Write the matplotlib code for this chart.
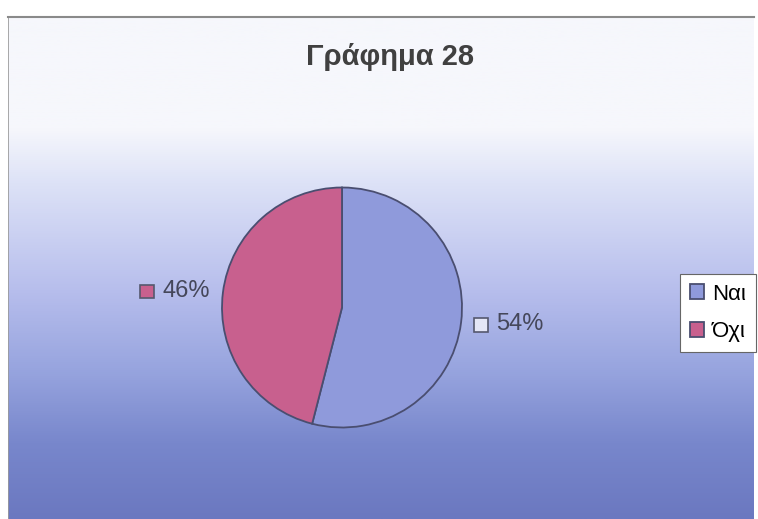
import numpy as np
import matplotlib.pyplot as plt
from matplotlib.colors import LinearSegmentedColormap
from matplotlib.offsetbox import AnnotationBbox, DrawingArea, HPacker, TextArea
from matplotlib.patches import Rectangle

# ---- Data ----
labels = ["Ναι", "Όχι"]
shares = [54, 46]
colors = ["#8f9adb", "#c8608e"]
label_keys = ["#e4e6f6", "#c8608e"]
title = "Γράφημα 28"

FONT = ["Liberation Sans", "DejaVu Sans"]
W, H = 758, 519
fig = plt.figure(figsize=(W / 100, H / 100), dpi=100)
fig.patch.set_facecolor("white")

# ---- Background: white top fading into blue ----
bg = fig.add_axes([8 / W, 0, 746 / W, 1 - 17 / H])
bg.set_axis_off()
stops = [(0.0, "#f6f7fc"), (0.22, "#f6f7fc"), (0.33, "#dde2f7"),
         (0.55, "#b6bdec"), (0.70, "#98a5df"), (0.85, "#7887cc"),
         (1.0, "#6b78c0")]
cmap = LinearSegmentedColormap.from_list("bg", stops)
grad = np.linspace(0, 1, 512).reshape(-1, 1)
bg.imshow(grad, cmap=cmap, aspect="auto", extent=[0, 1, 0, 1], origin="upper")
bg.set_xlim(0, 1)
bg.set_ylim(0, 1)
bg.axvline(0.0, color="#9a9a9a", lw=1.2)
bg.axhline(1.0, color="#8a8a8a", lw=1.5, clip_on=False)

fig.text(390 / W, 1 - 57 / H, title, ha="center", va="center",
         fontsize=21, fontweight="bold", color="#404040", family=FONT)

# ---- Pie ----
cx, cy, r = 342, 307.5, 120
ax = fig.add_axes([(cx - r) / W, 1 - (cy + r) / H, 2 * r / W, 2 * r / H])
wedges, _ = ax.pie(shares, colors=colors, startangle=90, counterclock=False,
                   wedgeprops=dict(edgecolor="#4a4e70", linewidth=1.3))
ax.set_xlim(-1, 1)
ax.set_ylim(-1, 1)
ax.set_aspect("equal")

# percentage labels with a small key square, placed outside each wedge
for w, s, kc in zip(wedges, shares, label_keys):
    mid = np.deg2rad((w.theta1 + w.theta2) / 2)
    x, y = 1.11 * np.cos(mid), 1.11 * np.sin(mid)
    da = DrawingArea(11, 11, 0, 0)
    da.add_artist(Rectangle((0, 0), 10, 10, facecolor=kc, edgecolor="#55586e", lw=1.2))
    ta = TextArea(f"{s}%", textprops=dict(fontsize=17, color="#45475a", family=FONT))
    box = HPacker(children=[da, ta], align="center", pad=0, sep=5)
    align = (0, 0.5) if np.cos(mid) > 0 else (1, 0.5)
    ab = AnnotationBbox(box, (x, y), xycoords="data", box_alignment=align,
                        frameon=False, annotation_clip=False)
    ax.add_artist(ab)

leg = fig.legend(wedges, labels, loc="center left",
                 bbox_to_anchor=(680 / W, 1 - 313 / H), frameon=True,
                 fancybox=False, edgecolor="#666666", framealpha=1,
                 handlelength=0.65, handleheight=0.65, handletextpad=0.35,
                 borderpad=0.45, borderaxespad=0, labelspacing=0.75,
                 prop=dict(size=16, family=FONT))
leg.get_frame().set_linewidth(0.8)

fig.savefig("out.png", dpi=100)
